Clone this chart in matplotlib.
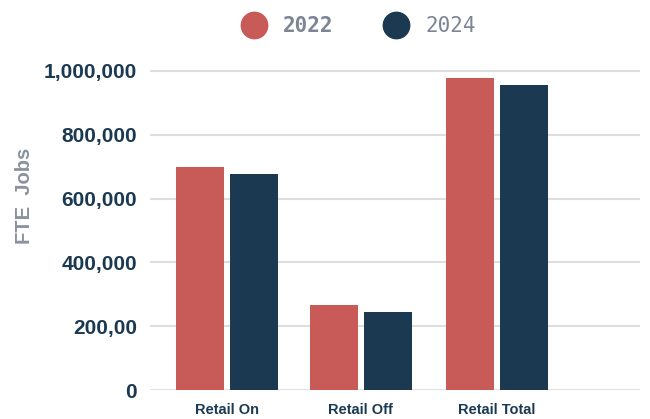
import matplotlib.pyplot as plt
from matplotlib.lines import Line2D
import numpy as np

categories = ['Retail On', 'Retail Off', 'Retail Total']
jobs_2022 = [699000, 266000, 978000]
jobs_2024 = [677000, 245000, 956000]
ytick_vals = [0, 200000, 400000, 600000, 800000, 1000000]
ytick_labels = ['0', '200,00', '400,000', '600,000', '800,000', '1,000,000']

red = '#c85a58'
navy = '#1b3a52'
grey = '#7d8494'

fig = plt.figure(figsize=(6.5, 4.19), dpi=100)
ax = fig.add_axes([150/650, 29/419, 490/650, 350/419])

x = np.array([0, 0.99, 2.0])
w = 0.355
ax.bar(x - 0.2, jobs_2022, w, color=red, zorder=3)
ax.bar(x + 0.2, jobs_2024, w, color=navy, zorder=3)

ax.set_xlim(-0.57, 3.06)
ax.set_ylim(0, 1000000 * 350 / 319)
ax.set_yticks(ytick_vals)
ax.set_yticklabels(ytick_labels, fontsize=15, fontweight='bold', color=navy,
                   family='Liberation Sans')
ax.set_xticks(x)
ax.set_xticklabels(categories, fontsize=10.5, fontweight='bold', color=navy,
                   family=['Liberation Sans Narrow', 'Liberation Sans'])
ax.tick_params(axis='both', length=0)
ax.tick_params(axis='y', pad=9.5)
ax.tick_params(axis='x', pad=9)
for v in ytick_vals:
    ax.axhline(v, color='#dedede', lw=2 if v == 0 else 1.5, zorder=1)
for s in ax.spines.values():
    s.set_visible(False)

fig.text(24/650, 1 - 196/419, 'FTE  Jobs', rotation=90, ha='center', va='center',
         fontsize=14.5, fontweight='bold', color='#8a92a0', family='Liberation Sans')

# legend
handles = [Line2D([], [], marker='o', ls='', markersize=19, color=red),
           Line2D([], [], marker='o', ls='', markersize=19, color=navy)]
leg = fig.legend(handles, ['2022', '2024'], loc='center', bbox_to_anchor=(0.545, 1 - 26/419),
                 ncol=2, frameon=False, handletextpad=0.4, columnspacing=2.0,
                 prop={'family': 'DejaVu Sans Mono', 'size': 15})
leg.get_texts()[0].set_fontweight('bold')
for t in leg.get_texts():
    t.set_color(grey)

fig.savefig('out.png', dpi=100)
